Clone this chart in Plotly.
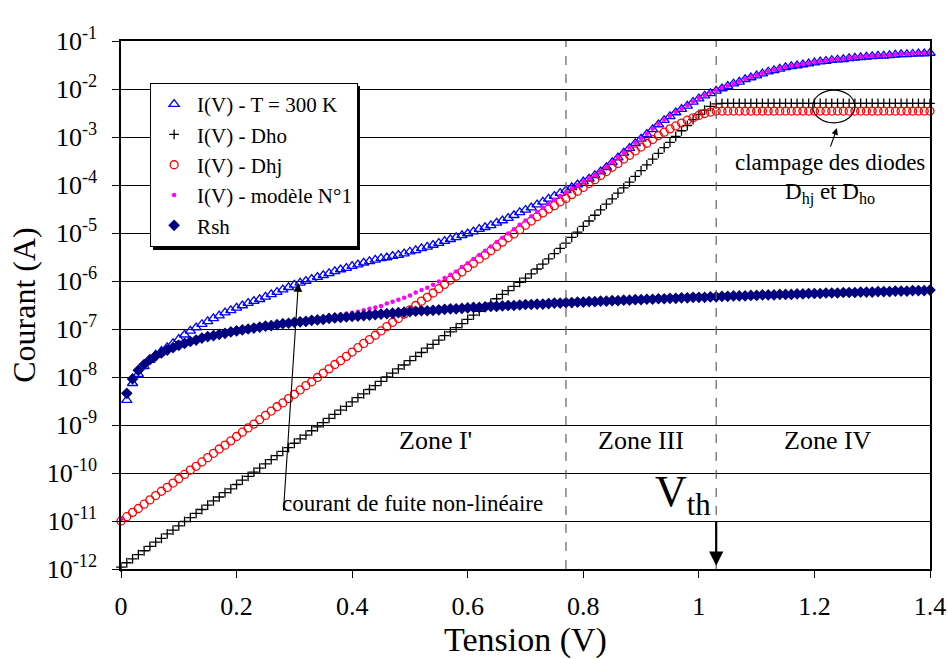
import plotly.graph_objects as go

# Voltage sweep (V), 10 mV step
tension_v = [k / 100 for k in range(141)]

# log10 of current (A) for each curve, one value per voltage step
log_i_300k = [
    None, -8.48, -8.13, -7.94, -7.78, -7.65, -7.54, -7.46, -7.38, -7.30,
    -7.21, -7.12, -7.04, -6.97, -6.90, -6.84, -6.78, -6.72, -6.66, -6.61,
    -6.56, -6.51, -6.46, -6.42, -6.38, -6.33, -6.28, -6.23, -6.18, -6.13,
    -6.08, -6.04, -6.00, -5.96, -5.92, -5.88, -5.84, -5.80, -5.76, -5.73,
    -5.69, -5.66, -5.62, -5.59, -5.56, -5.53, -5.51, -5.48, -5.46, -5.43,
    -5.39, -5.36, -5.32, -5.29, -5.25, -5.21, -5.17, -5.13, -5.09, -5.05,
    -5.01, -4.97, -4.92, -4.88, -4.84, -4.79, -4.74, -4.69, -4.63, -4.57,
    -4.52, -4.47, -4.41, -4.35, -4.29, -4.23, -4.17, -4.11, -4.05, -3.99,
    -3.93, -3.87, -3.80, -3.72, -3.63, -3.53, -3.43, -3.33, -3.23, -3.13,
    -3.04, -2.94, -2.84, -2.74, -2.65, -2.57, -2.49, -2.42, -2.35, -2.27,
    -2.20, -2.14, -2.09, -2.04, -1.99, -1.94, -1.89, -1.85, -1.80, -1.76,
    -1.72, -1.68, -1.64, -1.61, -1.58, -1.55, -1.53, -1.51, -1.49, -1.47,
    -1.45, -1.43, -1.42, -1.40, -1.39, -1.38, -1.36, -1.35, -1.34, -1.33,
    -1.32, -1.31, -1.31, -1.30, -1.29, -1.28, -1.28, -1.27, -1.26, -1.26,
    -1.25,
]

log_i_dho = [
    -11.96, -11.87, -11.79, -11.70, -11.62, -11.53, -11.44, -11.36, -11.27, -11.19,
    -11.10, -11.01, -10.93, -10.84, -10.76, -10.67, -10.58, -10.50, -10.41, -10.33,
    -10.24, -10.15, -10.07, -9.98, -9.90, -9.81, -9.72, -9.64, -9.55, -9.47,
    -9.38, -9.29, -9.21, -9.12, -9.04, -8.95, -8.86, -8.78, -8.69, -8.61,
    -8.52, -8.43, -8.35, -8.26, -8.18, -8.09, -8.00, -7.92, -7.83, -7.75,
    -7.66, -7.57, -7.49, -7.40, -7.32, -7.23, -7.14, -7.06, -6.97, -6.89,
    -6.80, -6.71, -6.63, -6.54, -6.46, -6.37, -6.28, -6.20, -6.11, -6.03,
    -5.94, -5.85, -5.75, -5.65, -5.54, -5.43, -5.32, -5.21, -5.09, -4.98,
    -4.86, -4.75, -4.63, -4.52, -4.40, -4.29, -4.17, -4.06, -3.94, -3.82,
    -3.70, -3.58, -3.46, -3.34, -3.22, -3.11, -2.99, -2.87, -2.76, -2.64,
    -2.53, -2.44, -2.36, -2.31, -2.30, -2.30, -2.30, -2.30, -2.30, -2.30,
    -2.30, -2.30, -2.30, -2.30, -2.30, -2.30, -2.30, -2.30, -2.30, -2.30,
    -2.30, -2.30, -2.30, -2.30, -2.30, -2.30, -2.30, -2.30, -2.30, -2.30,
    -2.30, -2.30, -2.30, -2.30, -2.30, -2.30, -2.30, -2.30, -2.30, -2.30,
    -2.30,
]

log_i_dhj = [
    -11.00, -10.91, -10.82, -10.74, -10.65, -10.56, -10.47, -10.38, -10.30, -10.21,
    -10.12, -10.03, -9.94, -9.86, -9.77, -9.68, -9.59, -9.50, -9.42, -9.33,
    -9.24, -9.15, -9.06, -8.98, -8.89, -8.80, -8.71, -8.62, -8.54, -8.45,
    -8.36, -8.27, -8.18, -8.10, -8.01, -7.92, -7.83, -7.74, -7.66, -7.57,
    -7.48, -7.39, -7.30, -7.22, -7.13, -7.04, -6.95, -6.86, -6.78, -6.69,
    -6.60, -6.51, -6.42, -6.34, -6.25, -6.16, -6.07, -5.98, -5.90, -5.81,
    -5.72, -5.63, -5.54, -5.46, -5.37, -5.28, -5.19, -5.10, -5.02, -4.93,
    -4.84, -4.75, -4.66, -4.58, -4.50, -4.43, -4.35, -4.28, -4.20, -4.13,
    -4.05, -3.97, -3.89, -3.80, -3.72, -3.63, -3.55, -3.46, -3.38, -3.29,
    -3.21, -3.13, -3.05, -2.97, -2.90, -2.83, -2.77, -2.71, -2.65, -2.60,
    -2.55, -2.51, -2.48, -2.46, -2.46, -2.46, -2.46, -2.46, -2.46, -2.46,
    -2.46, -2.46, -2.46, -2.46, -2.46, -2.46, -2.46, -2.46, -2.46, -2.46,
    -2.46, -2.46, -2.46, -2.46, -2.46, -2.46, -2.46, -2.46, -2.46, -2.46,
    -2.46, -2.46, -2.46, -2.46, -2.46, -2.46, -2.46, -2.46, -2.46, -2.46,
    -2.46,
]

log_i_modele1 = [
    -10.96, -8.34, -8.04, -7.86, -7.74, -7.64, -7.56, -7.50, -7.44, -7.39,
    -7.34, -7.30, -7.26, -7.23, -7.19, -7.16, -7.14, -7.11, -7.09, -7.06,
    -7.04, -7.02, -7.00, -6.98, -6.96, -6.93, -6.92, -6.90, -6.88, -6.87,
    -6.85, -6.83, -6.82, -6.80, -6.78, -6.77, -6.74, -6.72, -6.70, -6.68,
    -6.66, -6.64, -6.61, -6.58, -6.55, -6.52, -6.47, -6.43, -6.39, -6.35,
    -6.30, -6.24, -6.19, -6.14, -6.08, -6.01, -5.94, -5.87, -5.80, -5.71,
    -5.63, -5.54, -5.46, -5.37, -5.28, -5.19, -5.10, -5.01, -4.92, -4.83,
    -4.74, -4.65, -4.56, -4.47, -4.39, -4.31, -4.23, -4.15, -4.07, -4.00,
    -3.92, -3.86, -3.79, -3.71, -3.62, -3.52, -3.42, -3.32, -3.22, -3.12,
    -3.03, -2.93, -2.83, -2.73, -2.64, -2.56, -2.48, -2.41, -2.34, -2.26,
    -2.19, -2.13, -2.08, -2.03, -1.98, -1.93, -1.88, -1.84, -1.79, -1.75,
    -1.71, -1.67, -1.63, -1.60, -1.57, -1.54, -1.52, -1.50, -1.48, -1.46,
    -1.44, -1.42, -1.41, -1.39, -1.38, -1.37, -1.35, -1.34, -1.33, -1.32,
    -1.31, -1.30, -1.30, -1.29, -1.28, -1.27, -1.27, -1.26, -1.25, -1.25,
    -1.24,
]

log_i_rsh = [
    None, -8.34, -8.04, -7.86, -7.74, -7.64, -7.56, -7.50, -7.44, -7.39,
    -7.34, -7.30, -7.26, -7.23, -7.19, -7.16, -7.14, -7.11, -7.09, -7.06,
    -7.04, -7.02, -7.00, -6.98, -6.96, -6.94, -6.93, -6.91, -6.89, -6.88,
    -6.86, -6.85, -6.84, -6.82, -6.81, -6.80, -6.78, -6.77, -6.76, -6.75,
    -6.74, -6.73, -6.72, -6.71, -6.70, -6.69, -6.68, -6.67, -6.66, -6.65,
    -6.64, -6.63, -6.62, -6.62, -6.61, -6.60, -6.59, -6.58, -6.58, -6.57,
    -6.56, -6.55, -6.55, -6.54, -6.53, -6.53, -6.52, -6.51, -6.51, -6.50,
    -6.49, -6.49, -6.48, -6.48, -6.47, -6.46, -6.46, -6.45, -6.45, -6.44,
    -6.44, -6.43, -6.43, -6.42, -6.42, -6.41, -6.41, -6.40, -6.40, -6.39,
    -6.39, -6.38, -6.38, -6.37, -6.37, -6.36, -6.36, -6.35, -6.35, -6.34,
    -6.34, -6.34, -6.33, -6.33, -6.32, -6.32, -6.31, -6.31, -6.31, -6.30,
    -6.30, -6.29, -6.29, -6.29, -6.28, -6.28, -6.28, -6.27, -6.27, -6.26,
    -6.26, -6.26, -6.25, -6.25, -6.25, -6.24, -6.24, -6.24, -6.23, -6.23,
    -6.23, -6.22, -6.22, -6.22, -6.21, -6.21, -6.21, -6.20, -6.20, -6.20,
    -6.19,
]

# Decade exponents used for the current axis labels
decades = [-12, -11, -10, -9, -8, -7, -6, -5, -4, -3, -2, -1]
volt_ticks = [0, 0.2, 0.4, 0.6, 0.8, 1.0, 1.2, 1.4]
volt_tick_text = ["0", "0.2", "0.4", "0.6", "0.8", "1", "1.2", "1.4"]

# Zone boundaries (V)
v_zone_iii = 0.77
v_th = 1.03

FONT = "Liberation Serif"


def to_amp(logs):
    return [None if v is None else 10 ** v for v in logs]


fig = go.Figure()

fig.add_trace(go.Scatter(
    x=tension_v, y=to_amp(log_i_300k), mode="markers", name="I(V) - T = 300 K",
    marker=dict(symbol="triangle-up-open", size=9, color="#0000ff",
                line=dict(width=1.3, color="#0000ff")),
    cliponaxis=False,
))
fig.add_trace(go.Scatter(
    x=tension_v, y=to_amp(log_i_dho), mode="markers", name="I(V) - Dho",
    marker=dict(symbol="cross-thin", size=7, color="#000000",
                line=dict(width=1.3, color="#000000")),
    cliponaxis=False,
))
fig.add_trace(go.Scatter(
    x=tension_v, y=to_amp(log_i_dhj), mode="markers", name="I(V) - Dhj",
    marker=dict(symbol="circle-open", size=8, color="#ff0000",
                line=dict(width=1.3, color="#ff0000")),
    cliponaxis=False,
))
fig.add_trace(go.Scatter(
    x=tension_v, y=to_amp(log_i_modele1), mode="markers", name="I(V) - modèle N°1",
    marker=dict(symbol="circle", size=4.5, color="#ff00ff"),
    cliponaxis=False,
))
fig.add_trace(go.Scatter(
    x=tension_v, y=to_amp(log_i_rsh), mode="markers", name="Rsh",
    marker=dict(symbol="diamond", size=9, color="#000080"),
    cliponaxis=False,
))

# Zone separators
for v in (v_zone_iii, v_th):
    fig.add_shape(type="line", xref="x", yref="paper", x0=v, x1=v, y0=0, y1=1,
                  line=dict(color="#606060", width=1.2, dash="dash"), layer="above")

# Ellipse around the clamped diode currents
fig.add_shape(type="circle", xref="x", yref="paper",
              x0=1.197, x1=1.270, y0=0.845, y1=0.907,
              line=dict(color="#000000", width=1.2))

# Legend drop shadow
fig.add_shape(type="rect", xref="paper", yref="paper",
              x0=0.0396, x1=0.2954, y0=0.6042, y1=0.9148,
              fillcolor="#000000", line=dict(width=0), layer="above")

txt = dict(family=FONT, color="#000000")
mid = dict(xanchor="center", yanchor="middle", showarrow=False)
annotations = [
    dict(x=0.545, y=0.2443, xref="x", yref="paper", text="Zone I'",
         font=dict(size=26, **txt), **mid),
    dict(x=0.90, y=0.2443, xref="x", yref="paper", text="Zone III",
         font=dict(size=26, **txt), **mid),
    dict(x=1.223, y=0.2443, xref="x", yref="paper", text="Zone IV",
         font=dict(size=26, **txt), **mid),
    dict(x=0.9725, y=0.142, xref="x", yref="paper", text="V<sub>th</sub>",
         font=dict(size=44, **txt), **mid),
    dict(x=v_th, y=0.006, xref="x", yref="paper", text="", showarrow=True,
         ax=0, ay=-46, arrowhead=2, arrowsize=1.3, arrowwidth=2.2,
         arrowcolor="#000000"),
    dict(x=0.505, y=0.125, xref="x", yref="paper",
         text="courant de fuite non-linéaire",
         font=dict(size=23, **txt), **mid),
    dict(x=0.307, y=-6.04, xref="x", yref="y", text="", showarrow=True,
         ax=-15, ay=229, arrowhead=2, arrowsize=1.6, arrowwidth=1.1,
         arrowcolor="#000000"),
    dict(x=1.227, y=0.769, xref="x", yref="paper", text="clampage des diodes",
         font=dict(size=23, **txt), **mid),
    dict(x=1.227, y=0.712, xref="x", yref="paper",
         text="D<sub>hj</sub> et D<sub>ho</sub>",
         font=dict(size=23, **txt), **mid),
    dict(x=1.239, y=0.835, xref="x", yref="paper", text="", showarrow=True,
         ax=-7, ay=20, arrowhead=2, arrowsize=1.2, arrowwidth=1.1,
         arrowcolor="#000000"),
]

fig.update_layout(
    width=948, height=659,
    margin=dict(l=121, r=18, t=41, b=90),
    paper_bgcolor="#ffffff", plot_bgcolor="#ffffff",
    font=dict(family=FONT, color="#000000", size=22),
    annotations=annotations,
    legend=dict(
        x=0.036, y=0.9205, xanchor="left", yanchor="top",
        bgcolor="#ffffff", bordercolor="#000000", borderwidth=1,
        font=dict(family=FONT, size=21, color="#000000"),
        itemsizing="trace", itemwidth=36,
    ),
    xaxis=dict(
        range=[0, 1.4], tickvals=volt_ticks, ticktext=volt_tick_text,
        ticks="outside", ticklen=7, tickwidth=1, tickcolor="#000000",
        showline=True, linecolor="#000000", linewidth=1.5, mirror=True,
        showgrid=False, zeroline=False, automargin=False,
        tickfont=dict(size=26, family=FONT), ticklabelstandoff=6,
        title=dict(text="Tension (V)", font=dict(size=34, family=FONT), standoff=2),
    ),
    yaxis=dict(
        type="log", range=[-12, -1],
        tickvals=[10 ** d for d in decades],
        ticktext=[f"10<sup>{d}</sup>" for d in decades],
        ticks="outside", ticklen=7, tickwidth=1, tickcolor="#000000",
        showline=True, linecolor="#000000", linewidth=1.5, mirror=True,
        showgrid=True, gridcolor="#000000", gridwidth=1,
        zeroline=False, automargin=False,
        tickfont=dict(size=26, family=FONT), ticklabelstandoff=10,
        title=dict(text="Courant (A)", font=dict(size=32, family=FONT), standoff=2),
    ),
)

fig.write_html("out.html")
